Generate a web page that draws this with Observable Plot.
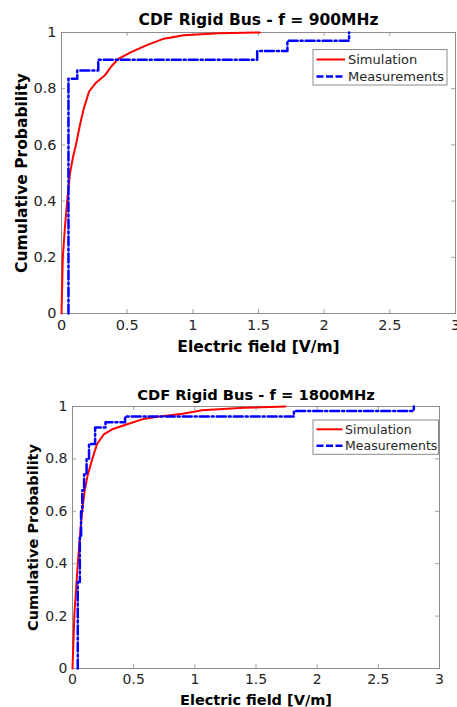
<!DOCTYPE html>
<html>
<head>
<meta charset="utf-8">
<script src="https://cdn.jsdelivr.net/npm/d3@7"></script>
<script src="https://cdn.jsdelivr.net/npm/@observablehq/plot@0.6"></script>
<style>
  html, body { margin: 0; padding: 0; background: #fff; }
  #root { width: 457px; height: 707px; overflow: hidden; }
  svg { display: block; }
</style>
</head>
<body>
<div id="root"></div>
<script>
// ---- data ----
const xTicks = [0, 0.5, 1, 1.5, 2, 2.5, 3];
const yTicks = [0, 0.2, 0.4, 0.6, 0.8, 1];
const seriesNames = ["Simulation", "Measurements"];
const xLabel = "Electric field [V/m]";
const yLabel = "Cumulative Probability";

const title900 = "CDF Rigid Bus - f = 900MHz";
const sim900E = [0, 0.005, 0.01, 0.025, 0.043, 0.065, 0.089, 0.11, 0.14, 0.17, 0.21, 0.26, 0.335, 0.38, 0.43, 0.53, 0.65, 0.78, 0.93, 1.2, 1.51];
const sim900P = [0, 0.1, 0.2, 0.3, 0.4, 0.5, 0.56, 0.6, 0.67, 0.73, 0.79, 0.82, 0.85, 0.88, 0.905, 0.93, 0.955, 0.978, 0.99, 0.997, 1.0];
const meas900E = [0.053, 0.053, 0.12, 0.28, 1.49, 1.72, 2.19];
const meas900P = [0, 0.835, 0.865, 0.903, 0.934, 0.971, 1.0];

const title1800 = "CDF Rigid Bus - f = 1800MHz";
const sim1800E = [0, 0.016, 0.043, 0.065, 0.079, 0.1, 0.125, 0.166, 0.2, 0.256, 0.324, 0.447, 0.57, 0.68, 0.9, 1.06, 1.4, 1.74];
const sim1800P = [0, 0.21, 0.4, 0.53, 0.6, 0.68, 0.74, 0.806, 0.856, 0.894, 0.913, 0.932, 0.951, 0.96, 0.972, 0.986, 0.995, 1.0];
const meas1800E = [0.043, 0.043, 0.06, 0.07, 0.08, 0.095, 0.115, 0.135, 0.185, 0.27, 0.43, 1.81, 2.79];
const meas1800P = [0, 0.33, 0.5, 0.6, 0.68, 0.74, 0.8, 0.857, 0.92, 0.94, 0.962, 0.983, 1.0];

const zip = (xs, ys) => xs.map((x, i) => ({x, y: ys[i]}));

const FONT = "DejaVu Sans";
const TXT = "#262626";
const BOX = "#8c8c8c";
const DASH = "9,3,2,3";

function makeChart(cfg) {
  const sim = zip(cfg.simE, cfg.simP);
  const meas = zip(cfg.measE, cfg.measP);
  const ty = cfg.tickLenY, tx = cfg.tickLenX;
  const svg = Plot.plot({
    width: 457,
    height: cfg.height,
    marginLeft: cfg.ml, marginRight: cfg.mr, marginTop: cfg.mt, marginBottom: cfg.mb,
    style: {fontFamily: FONT, fontSize: cfg.tickFont + "px", color: TXT, background: "#fff", overflow: "visible"},
    x: {domain: [0, 3], ticks: xTicks},
    y: {domain: [0, 1], ticks: yTicks},
    marks: [
      Plot.ruleX(xTicks, {x: d => d, y1: 0, y2: ty, stroke: BOX, strokeWidth: 0.8}),
      Plot.ruleX(xTicks, {x: d => d, y1: 1, y2: 1 - ty, stroke: BOX, strokeWidth: 0.8}),
      Plot.ruleY(yTicks, {y: d => d, x1: 0, x2: tx, stroke: BOX, strokeWidth: 0.8}),
      Plot.ruleY(yTicks, {y: d => d, x1: 3, x2: 3 - tx, stroke: BOX, strokeWidth: 0.8}),
      Plot.frame({stroke: BOX, strokeWidth: 1}),
      Plot.axisX({ticks: xTicks, tickSize: 0, tickPadding: cfg.xPad, tickFormat: d => String(d), label: null, fill: TXT}),
      Plot.axisY({ticks: yTicks, tickSize: 0, tickPadding: cfg.yPad, tickFormat: d => String(d), label: null, fill: TXT}),
      Plot.line(sim, {x: "x", y: "y", stroke: "#ff0000", strokeWidth: 2}),
      Plot.line(meas, {x: "x", y: "y", curve: "step-after", stroke: "#0000ff", strokeWidth: 2.5, strokeDasharray: DASH}),
      Plot.text([cfg.title], {frameAnchor: "top", dy: cfg.titleDy, lineAnchor: "middle", fontWeight: "bold", fontSize: cfg.titleFont, fill: "#000"}),
      Plot.text([xLabel], {frameAnchor: "bottom", dy: cfg.xLabelDy, lineAnchor: "middle", fontWeight: "bold", fontSize: cfg.labelFont, fill: "#000"}),
      Plot.text([yLabel], {frameAnchor: "left", dx: cfg.yLabelDx, rotate: -90, lineAnchor: "middle", textAnchor: "middle", fontWeight: "bold", fontSize: cfg.labelFont, fill: "#000"})
    ]
  });
  // legend
  const L = cfg.legend;
  const g = d3.select(svg).append("g").attr("font-family", FONT).attr("font-size", L.font).attr("text-anchor", "start");
  g.append("rect").attr("x", L.x).attr("y", L.y).attr("width", L.w).attr("height", L.h)
    .attr("fill", "#fff").attr("stroke", BOX).attr("stroke-width", 1);
  const styles = [
    {stroke: "#ff0000", width: 2, dash: null},
    {stroke: "#0000ff", width: 2.5, dash: "7,2.5"}
  ];
  seriesNames.forEach((name, i) => {
    const yy = L.rows[i];
    const ln = g.append("line").attr("x1", L.lx1).attr("x2", L.lx2).attr("y1", yy).attr("y2", yy)
      .attr("stroke", styles[i].stroke).attr("stroke-width", styles[i].width);
    if (styles[i].dash) ln.attr("stroke-dasharray", styles[i].dash);
    g.append("text").attr("x", L.tx).attr("y", yy).attr("dy", "0.35em").attr("text-anchor", "start").attr("fill", TXT).text(name);
  });
  return svg;
}

const root = document.getElementById("root");
root.appendChild(makeChart({
  title: title900, simE: sim900E, simP: sim900P, measE: meas900E, measP: meas900P,
  height: 360, ml: 61, mr: 2, mt: 32, mb: 47,
  tickLenY: 0.014, tickLenX: 0.03,
  tickFont: 14.5, titleFont: 15.5, labelFont: 15.5,
  xPad: 6, yPad: 5, titleDy: -12, xLabelDy: 34, yLabelDx: -39,
  legend: {x: 313, y: 49.5, w: 134, h: 35.5, lx1: 316.5, lx2: 345, tx: 348, rows: [59.5, 76.5], font: 13}
}));
root.appendChild(makeChart({
  title: title1800, simE: sim1800E, simP: sim1800P, measE: meas1800E, measP: meas1800P,
  height: 347, ml: 72, mr: 18, mt: 46, mb: 39,
  tickLenY: 0.015, tickLenX: 0.033,
  tickFont: 14, titleFont: 14.7, labelFont: 14.5,
  xPad: 6, yPad: 5, titleDy: -11, xLabelDy: 32, yLabelDx: -39,
  legend: {x: 313, y: 60, w: 125.5, h: 34.3, lx1: 316.5, lx2: 342.5, tx: 345, rows: [69.3, 85.7], font: 12.5}
}));
</script>
</body>
</html>
